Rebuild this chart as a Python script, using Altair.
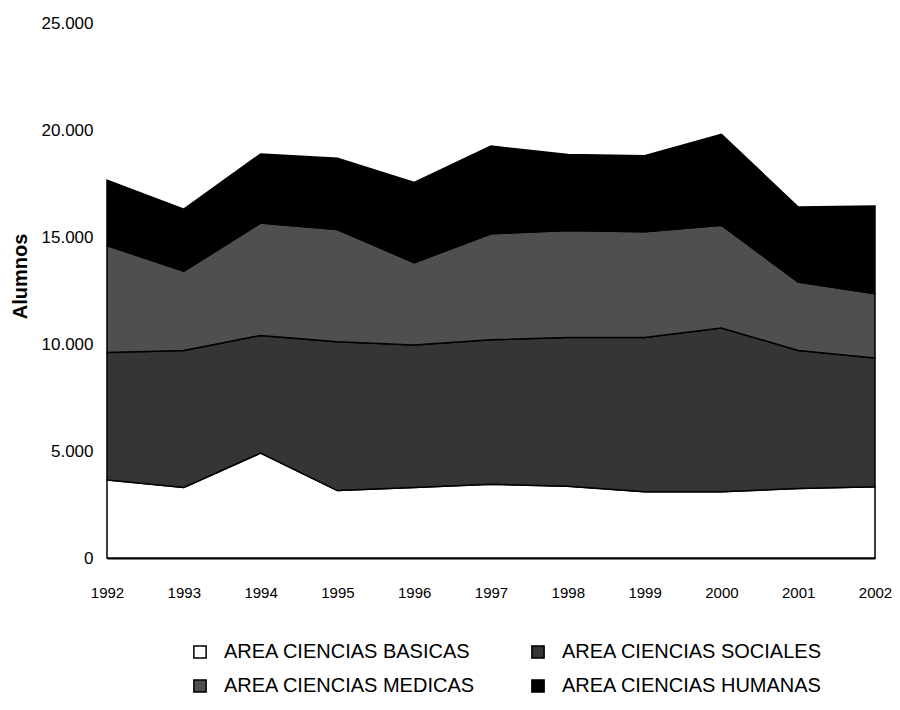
import altair as alt
import pandas as pd

years = [1992, 1993, 1994, 1995, 1996, 1997, 1998, 1999, 2000, 2001, 2002]
basicas = [3650, 3300, 4900, 3150, 3300, 3450, 3350, 3100, 3100, 3250, 3330]
sociales = [5950, 6400, 5500, 6950, 6650, 6750, 6950, 7200, 7650, 6450, 6020]
medicas = [5000, 3700, 5250, 5250, 3850, 4950, 5000, 4950, 4800, 3200, 3000]
humanas = [3050, 2900, 3230, 3330, 3750, 4100, 3550, 3550, 4250, 3500, 4100]

series_names = ["AREA CIENCIAS BASICAS", "AREA CIENCIAS SOCIALES",
                "AREA CIENCIAS MEDICAS", "AREA CIENCIAS HUMANAS"]
series_colors = ["#ffffff", "#353535", "#4f4f4f", "#000000"]
y_ticks = [0, 5000, 10000, 15000, 20000, 25000]

rows = []
for k, (name, vals) in enumerate(zip(series_names, [basicas, sociales, medicas, humanas])):
    for yr, v in zip(years, vals):
        rows.append({"Año": yr, "Area": name, "Alumnos": v, "orden": k})
df = pd.DataFrame(rows)

FONT = "Liberation Sans, Arial, sans-serif"

chart = alt.Chart(df).mark_area(stroke="#000000", strokeWidth=1.5).encode(
    x=alt.X("Año:Q",
            scale=alt.Scale(domain=[1992, 2002], nice=False, zero=False),
            axis=alt.Axis(values=years, format="d", title=None, ticks=False, grid=False,
                          domainColor="#000000", domainWidth=2,
                          labelFont=FONT, labelFontSize=15, labelColor="#000000",
                          labelPadding=27, labelFlush=False)),
    y=alt.Y("Alumnos:Q", stack="zero",
            scale=alt.Scale(domain=[0, 25000], nice=False),
            axis=alt.Axis(values=y_ticks, ticks=False, grid=False, domain=False,
                          labelExpr="replace(format(datum.value, ','), ',', '.')",
                          labelFont=FONT, labelFontSize=17, labelColor="#000000",
                          labelPadding=14,
                          title="Alumnos", titleFont=FONT,
                          titleFontSize=20, titleFontWeight="bold", titleColor="#000000",
                          titleAngle=270, titleX=-87, titleY=253,
                          titleAlign="center", titleBaseline="middle")),
    color=alt.Color("Area:N",
                    scale=alt.Scale(domain=series_names, range=series_colors),
                    legend=alt.Legend(title=None, orient="none", legendX=83, legendY=619,
                                      direction="horizontal",
                                      columns=2, columnPadding=52, rowPadding=14,
                                      symbolType="square", symbolSize=150,
                                      symbolStrokeColor="#000000", symbolStrokeWidth=1.5,
                                      labelFont=FONT,
                                      labelFontSize=20, labelColor="#000000",
                                      labelOffset=14, labelLimit=400)),
    order=alt.Order("orden:Q", sort="ascending"),
).properties(
    width=768, height=535,
    background="#ffffff",
    autosize=alt.AutoSizeParams(type="none"),
    padding={"left": 99, "top": 15, "right": 17, "bottom": 138},
).configure_view(stroke=None, strokeWidth=0)

chart.save("out.html", embed_options={"renderer": "svg", "actions": False})
